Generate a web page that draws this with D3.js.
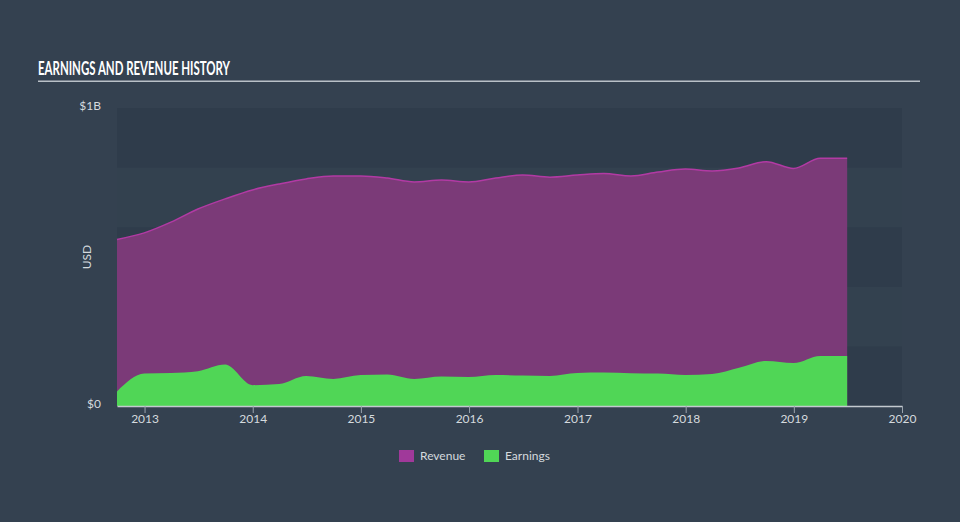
<!DOCTYPE html>
<html>
<head>
<meta charset="utf-8">
<script src="https://cdn.jsdelivr.net/npm/d3@7/dist/d3.min.js"></script>
<style>
html,body{margin:0;padding:0;background:#344150;}
svg{display:block;}
text{font-family:"Lato","Open Sans",sans-serif;}
</style>
</head>
<body>
<svg id="chart" width="960" height="522"></svg>
<script>
// Quarter-end dates
const dates = ["2012-09-30","2012-12-31","2013-03-31","2013-06-30","2013-09-30","2013-12-31","2014-03-31","2014-06-30","2014-09-30","2014-12-31","2015-03-31","2015-06-30","2015-09-30","2015-12-31","2016-03-31","2016-06-30","2016-09-30","2016-12-31","2017-03-31","2017-06-30","2017-09-30","2017-12-31","2018-03-31","2018-06-30","2018-09-30","2018-12-31","2019-03-31","2019-06-30"];
// Values in billions USD
const revenue = [0.559,0.581,0.617,0.661,0.695,0.725,0.745,0.762,0.772,0.772,0.765,0.752,0.758,0.752,0.765,0.775,0.768,0.775,0.780,0.772,0.785,0.795,0.789,0.799,0.820,0.797,0.831,0.831];
const earnings = [0.049,0.109,0.111,0.117,0.139,0.070,0.074,0.101,0.091,0.104,0.106,0.091,0.099,0.097,0.104,0.102,0.101,0.111,0.112,0.110,0.109,0.104,0.107,0.128,0.151,0.144,0.168,0.168];
const xTickYears = [2013,2014,2015,2016,2017,2018,2019,2020];
const yTicks = [0,1];
const yTickLabels = ["$0","$1B"];
const seriesNames = ["Revenue","Earnings"];
const seriesColors = ["#a0399a","#50d656"];

(function(){
const svg = d3.select("#chart");
const parse = d3.timeParse("%Y-%m-%d");
const data = dates.map((d,i)=>({date:parse(d),rev:revenue[i],earn:earnings[i]}));

const pL=117,pR=902,pT=108,pB=406;
const x = d3.scaleTime().domain([parse("2012-09-30"),parse("2020-01-01")]).range([pL,pR]);
const y = d3.scaleLinear().domain([0,1]).range([pB,pT]);

// Title
svg.append("text").attr("x",38).attr("y",75).attr("fill","#ffffff")
  .attr("font-family","'Liberation Sans Narrow','DejaVu Sans Condensed',sans-serif")
  .attr("font-weight","bold").attr("font-size",19).attr("textLength",192).attr("lengthAdjust","spacingAndGlyphs")
  .text("EARNINGS AND REVENUE HISTORY");
svg.append("rect").attr("x",38).attr("y",80.5).attr("width",882).attr("height",1.5).attr("fill","#b9c0c7");

// Background bands
const bandEdges = [0,0.2,0.4,0.6,0.8,1.0];
for(let i=0;i<5;i++){
  svg.append("rect").attr("x",pL).attr("width",pR-pL)
    .attr("y",y(bandEdges[i+1])).attr("height",y(bandEdges[i])-y(bandEdges[i+1]))
    .attr("fill", i%2===0 ? "#2f3c4b" : "#33414f");
}

// Areas
const curve = d3.curveMonotoneX;
const revArea = d3.area().x(d=>x(d.date)).y0(y(0)).y1(d=>y(d.rev)).curve(curve);
const revLine = d3.line().x(d=>x(d.date)).y(d=>y(d.rev)).curve(curve);
const earnArea = d3.area().x(d=>x(d.date)).y0(y(0)).y1(d=>y(d.earn)).curve(curve);

svg.append("path").datum(data).attr("d",revArea).attr("fill","#7b3a78");
svg.append("path").datum(data).attr("d",revLine).attr("fill","none").attr("stroke","#b23aa4").attr("stroke-width",1.5);
svg.append("path").datum(data).attr("d",earnArea).attr("fill","#50d656");

// X axis
const xAxis = d3.axisBottom(x).tickValues(xTickYears.map(yr=>new Date(yr,0,1)))
  .tickFormat(d3.timeFormat("%Y")).tickSize(7).tickSizeOuter(0);
const gx = svg.append("g").attr("transform",`translate(0,${pB})`).call(xAxis);
gx.select(".domain").attr("stroke","#c3c9cf").attr("stroke-width",1.5);
gx.selectAll(".tick line").attr("stroke","#9aa3ad");
gx.selectAll(".tick text").attr("fill","#d5dade").attr("font-size",12).attr("dy","0.6em");

// Y labels
yTicks.forEach((v,i)=>{
  svg.append("text").attr("x",101).attr("y",y(v)-2).attr("dy","0.35em").attr("text-anchor","end")
    .attr("fill","#d5dade").attr("font-size",12).text(yTickLabels[i]);
});
svg.append("text").attr("transform",`translate(91,${(pT+pB)/2}) rotate(-90)`).attr("text-anchor","middle")
  .attr("fill","#d5dade").attr("font-size",12).text("USD");

// Legend
const legendX = [399,484];
seriesNames.forEach((n,i)=>{
  svg.append("rect").attr("x",legendX[i]).attr("y",450).attr("width",15).attr("height",12).attr("fill",seriesColors[i]);
  svg.append("text").attr("x",legendX[i]+21).attr("y",456).attr("dy","0.35em")
    .attr("fill","#d5dade").attr("font-size",12).text(n);
});
})();
</script>
</body>
</html>
